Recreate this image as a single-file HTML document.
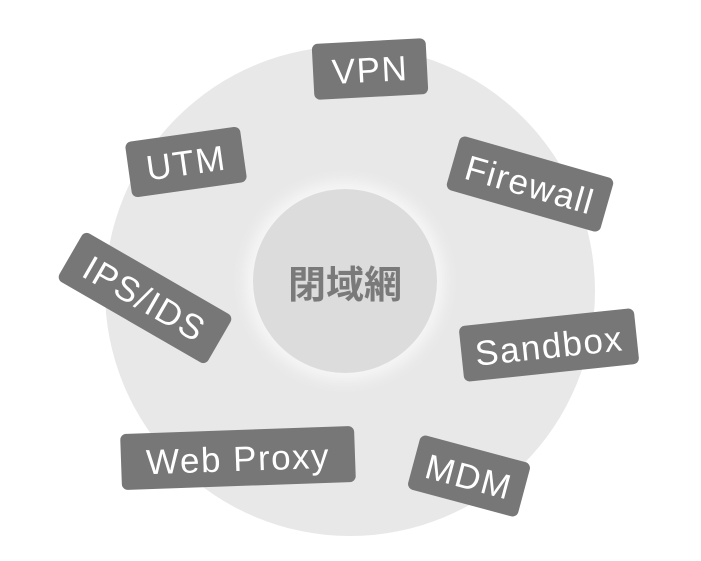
<!DOCTYPE html>
<html><head><meta charset="utf-8"><style>
html,body{margin:0;padding:0;background:#fff;}
#c{position:relative;width:701px;height:561px;overflow:hidden;}
.big{position:absolute;left:105px;top:46px;width:490px;height:490px;border-radius:50%;background:#e8e8e8;}
.inner{position:absolute;left:253px;top:189px;width:184px;height:184px;border-radius:50%;background:#dcdcdc;box-shadow:0 0 14px 8px #f6f6f6;}
.core{position:absolute;left:253px;top:189px;width:184px;height:184px;display:flex;align-items:center;justify-content:center;font:bold 38px "Liberation Sans","Noto Sans CJK JP",sans-serif;color:#7a7a7a;}
.t{position:absolute;height:56px;display:flex;align-items:center;justify-content:center;background:#777;color:#fff;border-radius:6px;font:35px "Liberation Sans",sans-serif;white-space:nowrap;letter-spacing:1.5px;padding-top:3px;box-sizing:border-box;}
</style></head><body><div id="c">
<div class="big"></div>
<div class="inner"></div>
<div class="core">閉域網</div>
<div class="t" style="left:370px;top:69px;width:114px;transform:translate(-50%,-50%) rotate(-3deg)">VPN</div>
<div class="t" style="left:530px;top:184px;width:160px;transform:translate(-50%,-50%) rotate(16deg)">Firewall</div>
<div class="t" style="left:186px;top:162px;width:116px;transform:translate(-50%,-50%) rotate(-8deg)">UTM</div>
<div class="t" style="left:145px;top:298px;width:172px;transform:translate(-50%,-50%) rotate(30deg)">IPS/IDS</div>
<div class="t" style="left:549px;top:345px;width:176px;transform:translate(-50%,-50%) rotate(-6deg)">Sandbox</div>
<div class="t" style="left:238px;top:458px;width:234px;transform:translate(-50%,-50%) rotate(-2deg)">Web Proxy</div>
<div class="t" style="left:469px;top:476px;width:114px;transform:translate(-50%,-50%) rotate(15deg)">MDM</div>
</div></body></html>
